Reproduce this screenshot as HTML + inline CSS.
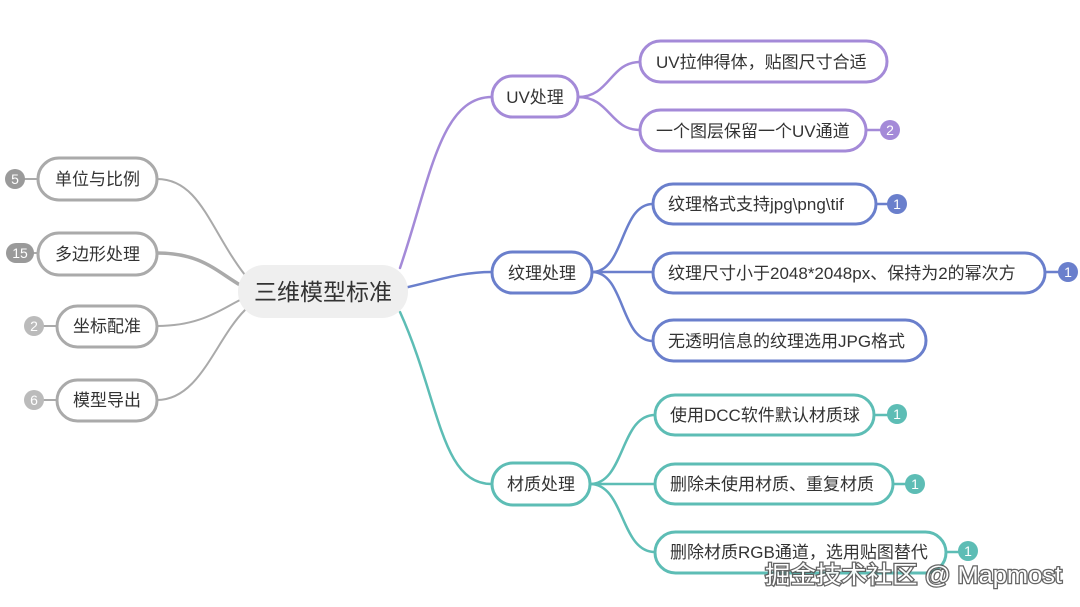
<!DOCTYPE html>
<html><head><meta charset="utf-8"><style>
html,body{margin:0;padding:0;background:#fff;}
svg{display:block}
text{font-family:"Liberation Sans","Noto Sans CJK SC",sans-serif;}
</style></head><body>
<svg width="1080" height="607" viewBox="0 0 1080 607" xmlns="http://www.w3.org/2000/svg">
<g fill="none" stroke-linecap="round">
<g stroke="#aaaaaa">
<path d="M157 179 C 200 179, 210 230, 245 275" stroke-width="2"/>
<path d="M157 253 C 200 253, 215 270, 240 285" stroke-width="3.5"/>
<path d="M157 326 C 200 326, 220 310, 240 300" stroke-width="2"/>
<path d="M157 400 C 200 400, 215 340, 245 310" stroke-width="2"/>
<path d="M24 179 H38" stroke-width="2"/>
<path d="M28 253 H38" stroke-width="2"/>
<path d="M42 326 H57" stroke-width="2"/>
<path d="M42 400 H57" stroke-width="2"/>
</g>
<g stroke="#a48ad8" stroke-width="2.5">
<path d="M400 268 C 430 180, 440 97, 492 97"/>
<path d="M578 97 C 610 97, 610 62, 640 62"/>
<path d="M578 97 C 610 97, 610 130, 640 130"/>
<path d="M866 130 H884"/>
</g>
<g stroke="#6a7fcc" stroke-width="2.5">
<path d="M404 288 C 440 280, 460 272, 492 272"/>
<path d="M592 272 C 625 272, 620 204, 653 204"/>
<path d="M592 272 H653"/>
<path d="M592 272 C 625 272, 620 341, 653 341"/>
<path d="M876 204 H892"/>
<path d="M1045 272 H1062"/>
</g>
<g stroke="#5dbdb5" stroke-width="2.5">
<path d="M400 312 C 440 400, 440 484, 492 484"/>
<path d="M590 484 C 625 484, 620 415, 655 415"/>
<path d="M590 484 H655"/>
<path d="M590 484 C 625 484, 620 552, 655 552"/>
<path d="M874 415 H892"/>
<path d="M893 484 H910"/>
<path d="M946 552 H963"/>
</g>
</g>

<rect x="238" y="265" width="170" height="53" rx="26" fill="#efefef"/>
<text x="323" y="300" font-size="23" text-anchor="middle" fill="#333">三维模型标准</text>

<g fill="#fff" stroke="#aaaaaa" stroke-width="3">
<rect x="38" y="158" width="119" height="42" rx="21"/>
<rect x="38" y="233" width="119" height="42" rx="21"/>
<rect x="57" y="306" width="100" height="41" rx="20.5"/>
<rect x="57" y="380" width="100" height="41" rx="20.5"/>
</g>
<g font-size="17" fill="#333" text-anchor="middle">
<text x="97.5" y="185">单位与比例</text>
<text x="97.5" y="260">多边形处理</text>
<text x="107" y="332">坐标配准</text>
<text x="107" y="406">模型导出</text>
</g>
<g fill="#9a9a9a">
<circle cx="15" cy="179" r="10"/>
<rect x="6" y="243" width="28" height="20" rx="10"/>
</g>
<g fill="#bbbbbb">
<circle cx="34" cy="326" r="10"/>
<circle cx="34" cy="400" r="10"/>
</g>
<g font-size="14" fill="#fff" text-anchor="middle">
<text x="15" y="184">5</text>
<text x="20" y="258">15</text>
<text x="34" y="331">2</text>
<text x="34" y="405">6</text>
</g>

<g fill="#fff" stroke-width="3">
<rect x="492" y="76" width="86" height="41" rx="20.5" stroke="#a48ad8"/>
<rect x="640" y="41" width="247" height="41" rx="20.5" stroke="#a48ad8"/>
<rect x="640" y="110" width="226" height="41" rx="20.5" stroke="#a48ad8"/>
<rect x="492" y="252" width="100" height="41" rx="20.5" stroke="#6a7fcc"/>
<rect x="653" y="184" width="223" height="40" rx="20" stroke="#6a7fcc"/>
<rect x="653" y="253" width="392" height="40" rx="20" stroke="#6a7fcc"/>
<rect x="653" y="320" width="273" height="41" rx="20.5" stroke="#6a7fcc"/>
<rect x="492" y="463" width="98" height="42" rx="21" stroke="#5dbdb5"/>
<rect x="655" y="395" width="219" height="40" rx="20" stroke="#5dbdb5"/>
<rect x="655" y="464" width="238" height="40" rx="20" stroke="#5dbdb5"/>
<rect x="655" y="532" width="291" height="41" rx="20.5" stroke="#5dbdb5"/>
</g>
<g font-size="17" fill="#333">
<text x="535" y="103" text-anchor="middle">UV处理</text>
<text x="656" y="68">UV拉伸得体，贴图尺寸合适</text>
<text x="656" y="137">一个图层保留一个UV通道</text>
<text x="542" y="279" text-anchor="middle">纹理处理</text>
<text x="668" y="210">纹理格式支持jpg\png\tif</text>
<text x="668" y="279">纹理尺寸小于2048*2048px、保持为2的幂次方</text>
<text x="668" y="347">无透明信息的纹理选用JPG格式</text>
<text x="541" y="490" text-anchor="middle">材质处理</text>
<text x="670" y="421">使用DCC软件默认材质球</text>
<text x="670" y="490">删除未使用材质、重复材质</text>
<text x="670" y="558">删除材质RGB通道，选用贴图替代</text>
</g>
<circle cx="890" cy="130" r="10" fill="#a48ad8"/>
<circle cx="897" cy="204" r="10" fill="#6a7fcc"/>
<circle cx="1068" cy="272" r="10" fill="#6a7fcc"/>
<circle cx="897" cy="414" r="10" fill="#5dbdb5"/>
<circle cx="915" cy="484" r="10" fill="#5dbdb5"/>
<circle cx="968" cy="551" r="10" fill="#5dbdb5"/>
<g font-size="14" fill="#fff" text-anchor="middle">
<text x="890" y="135">2</text>
<text x="897" y="209">1</text>
<text x="1068" y="277">1</text>
<text x="897" y="419">1</text>
<text x="915" y="489">1</text>
<text x="968" y="556">1</text>
</g>

<text x="765" y="583" font-size="24" textLength="297" lengthAdjust="spacingAndGlyphs" fill="#fff" stroke="#555" stroke-width="2.5" paint-order="stroke" opacity="0.9">掘金技术社区 @ Mapmost</text>
</svg>
</body></html>
